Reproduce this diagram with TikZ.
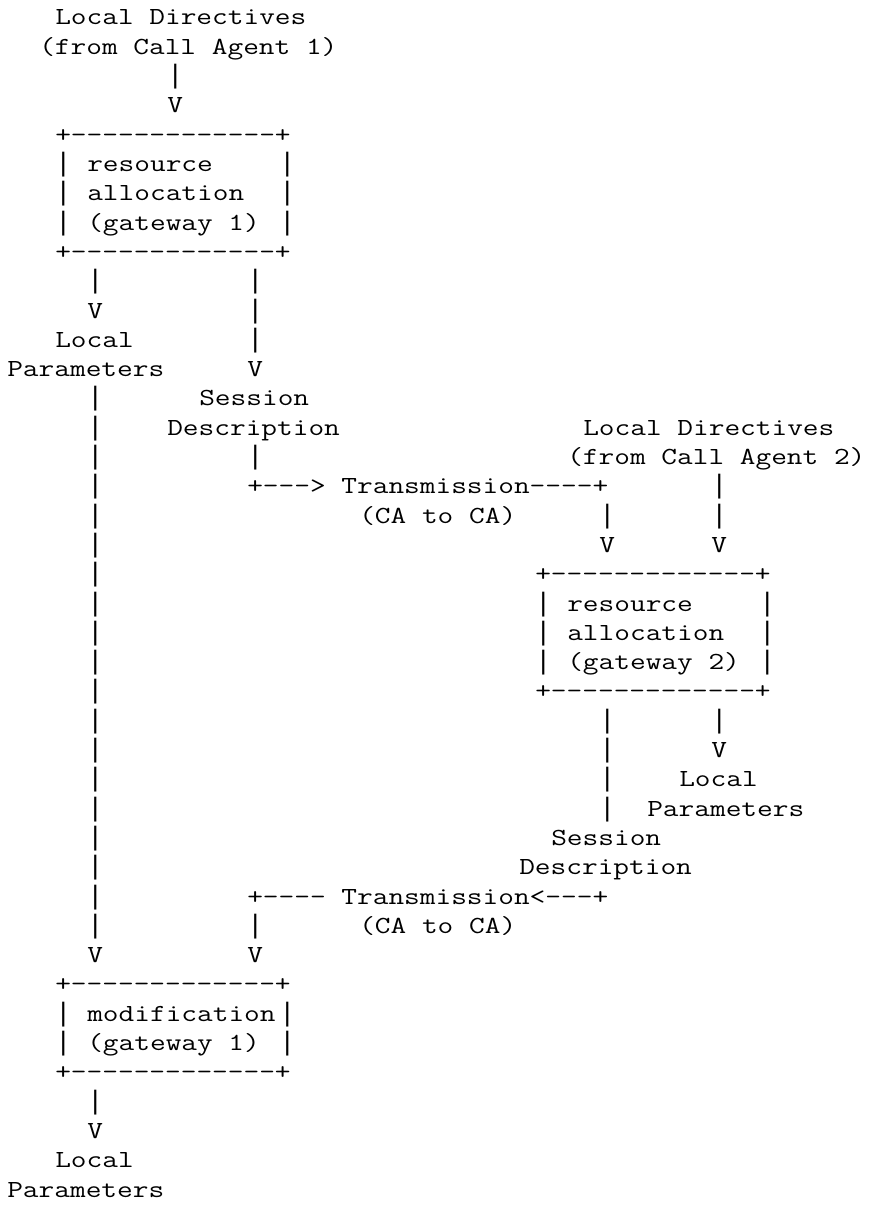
\documentclass[tikz,border=0pt]{standalone}
\usepackage{fontspec}
\setmonofont{Latin Modern Mono}[FakeStretch=1.242]
\newfontfamily\barfont{Liberation Mono}
\tikzstyle{ascii}=[anchor=base west,inner sep=0pt,outer sep=0pt,font=\ttfamily\fontsize{18.4pt}{22pt}\selectfont]
\tikzstyle{bar}=[ascii,font=\barfont\fontsize{20pt}{22pt}\selectfont]

\begin{document}
\begin{tikzpicture}[x=12pt,y=-21.975pt]
    \useasboundingbox (-0.456,0.147) rectangle (54.044,41.273);
    % call agent 1 and gateway 1
    \node[ascii] (ldir1)  at (3,1)  {Local Directives};
    \node[ascii] (from1)  at (2,2)  {(from Call Agent 1)};
    \node[ascii] (gw1top) at (3,5)  {+-------------+};
    \node[ascii] (res1)   at (5,6)  {resource};
    \node[ascii] (alloc1) at (5,7)  {allocation};
    \node[ascii] (gwa1)   at (5,8)  {(gateway 1)};
    \node[ascii] (gw1bot) at (3,9)  {+-------------+};
    \node[ascii] (lpar1a) at (3,12) {Local};
    \node[ascii] (lpar1b) at (0,13) {Parameters};
    \node[ascii] (sess1a) at (12,14) {Session};
    \node[ascii] (sess1b) at (10,15) {Description};
    \node[ascii] (tx1)    at (15,17) {+---> Transmission----+};
    \node[ascii] (ca1)    at (22,18) {(CA to CA)};
    % call agent 2 and gateway 2
    \node[ascii] (ldir2)  at (36,15) {Local Directives};
    \node[ascii] (from2)  at (35,16) {(from Call Agent 2)};
    \node[ascii] (gw2top) at (33,20) {+-------------+};
    \node[ascii] (res2)   at (35,21) {resource};
    \node[ascii] (alloc2) at (35,22) {allocation};
    \node[ascii] (gwa2)   at (35,23) {(gateway 2)};
    \node[ascii] (gw2bot) at (33,24) {+-------------+};
    \node[ascii] (lpar2a) at (42,27) {Local};
    \node[ascii] (lpar2b) at (40,28) {Parameters};
    \node[ascii] (sess2a) at (34,29) {Session};
    \node[ascii] (sess2b) at (32,30) {Description};
    \node[ascii] (tx2)    at (15,31) {+---- Transmission<---+};
    \node[ascii] (ca2)    at (22,32) {(CA to CA)};
    % modification on gateway 1
    \node[ascii] (modtop) at (3,34) {+-------------+};
    \node[ascii] (mod)    at (5,35) {modification};
    \node[ascii] (gwm)    at (5,36) {(gateway 1)};
    \node[ascii] (modbot) at (3,37) {+-------------+};
    \node[ascii] (lpar3a) at (3,40) {Local};
    \node[ascii] (lpar3b) at (0,41) {Parameters};

    \foreach \c/\l in {10/3,3/6,17/6,3/7,17/7,3/8,17/8,5/10,15/10,15/11,15/12,
        5/14,5/15,5/16,15/16,5/17,44/17,5/18,37/18,44/18,5/19,5/20,
        5/21,33/21,47/21,5/22,33/22,47/22,5/23,33/23,47/23,5/24,
        5/25,37/25,44/25,5/26,37/26,5/27,37/27,5/28,37/28,
        5/29,5/30,5/31,5/32,15/32,3/35,17/35,3/36,17/36,5/38}
    \node[bar] (bar-\c-\l) at (\c,\l) {|};

    \foreach \c/\l in {10/4,5/11,15/13,37/19,44/19,44/26,5/33,15/33,5/39}
    \node[ascii] (tip-\c-\l) at (\c,\l) {V};
\end{tikzpicture}
\end{document}
